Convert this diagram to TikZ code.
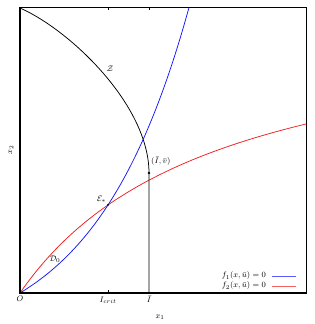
\documentclass[tikz,border=0pt]{standalone}
\usepackage{amsmath}
\usetikzlibrary{calc}
\definecolor{curveblue}{RGB}{20,20,255}
\definecolor{curvered}{RGB}{240,30,30}
\tikzset{
  frame/.style={line width=0.9pt,draw=black},
  axis/.style={line width=1.6pt,draw=black},
  curve/.style={line width=0.75pt,draw=#1},
  curve/.default=black,
  lbl/.style={font=\footnotesize,inner sep=1pt},
  dot/.style={circle,fill=black,inner sep=0pt,minimum size=2.6pt},
}
\begin{document}
\begin{tikzpicture}[x=1pt,y=1pt]
  \useasboundingbox (-20,-31) rectangle (294,293);
  % frame
  \draw[frame] (0,286) -- (286,286) -- (286,0);
  \foreach \t in {88,129} \draw[frame,line width=0.4pt] (\t,286) -- (\t,283);
  \draw[frame,line width=0.4pt] (88,0) -- (88,3);
  % curves
  \draw[curve=curvered] plot[domain=0:286,samples=80] (\x,{286*(\x/(198+\x))});
  \draw[curve=curveblue] plot[domain=0:169,samples=80] (\x,{57.07*(exp(0.0106*\x)-1)});
  \coordinate (ztop) at (0,285);
  \coordinate (ibar) at (129,0);
  \node[dot] (iv) at (129,120) {};
  \draw[curve] (ztop) .. controls (50,263) and (129,188) .. (iv.center) -- (ibar);
  \node[dot,minimum size=2pt] (estar) at (88,88) {};
  % axes
  \draw[axis] (0,286) -- (0,0) -- (287,0);
  \coordinate (orig) at (0,0);
  % labels
  \node[lbl] (zlab) at (90,224) {$\mathcal{Z}$};
  \node[lbl,anchor=south east] (elab) at (estar.north west) {$\mathcal{E}_*$};
  \node[lbl] (dlab) at (35,34) {$\mathcal{D}_0$};
  \node[lbl,anchor=west] (ivlab) at (130,132) {$(\bar I,\bar v)$};
  \node[lbl,anchor=north] (olab) at ($(orig)+(0,-2)$) {$O$};
  \node[lbl,anchor=north] (iclab) at (88,-3) {$I_{crit}$};
  \node[lbl,anchor=north] (iblab) at ($(ibar)+(0,-2)$) {$\bar I$};
  \node[lbl] (x1lab) at (140,-24) {$x_1$};
  \node[lbl,rotate=90] (x2lab) at (-9,143) {$x_2$};
  % legend
  \node[lbl,anchor=east] (leg1) at (247,17) {$f_1(x,\bar u)=0$};
  \node[lbl,anchor=east] (leg2) at (247,7) {$f_2(x,\bar u)=0$};
  \draw[curve=curveblue!70] ($(leg1.east)+(5,0)$) -- +(24,0);
  \draw[curve=curvered!70] ($(leg2.east)+(5,0)$) -- +(24,0);
\end{tikzpicture}
\end{document}
